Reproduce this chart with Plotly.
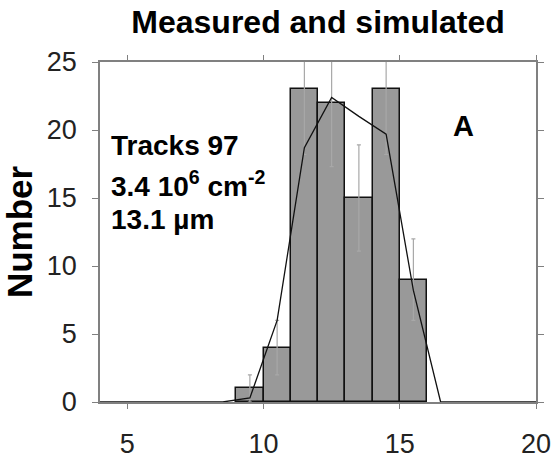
import plotly.graph_objects as go

# Data
bin_centers = [9.5, 10.5, 11.5, 12.5, 13.5, 14.5, 15.5]
counts = [1, 4, 23, 22, 15, 23, 9]
count_err = [1.0, 2.0, 4.8, 4.7, 3.9, 4.8, 3.0]

sim_x = [4.0, 4.5, 5.5, 6.5, 7.5, 8.5, 9.5, 10.5, 11.5, 12.5, 13.5, 14.5, 15.5, 16.5, 17.5, 18.5, 19.5, 20.0]
sim_y = [0, 0, 0, 0, 0, 0, 0.3, 6.0, 18.7, 22.4, 21.0, 19.7, 8.2, 0, 0, 0, 0, 0]

x_ticks = [5, 10, 15, 20]
y_ticks = [0, 5, 10, 15, 20, 25]

title_text = "Measured and simulated"
y_title = "Number"
info_lines = ["Tracks 97", "3.4 10<sup>6</sup> cm<sup>-2</sup>", "13.1 µm"]
panel_label = "A"

W, H = 555, 460
ml, mr, mt, mb = 100, 19, 62, 58
pw = W - ml - mr
ph = H - mt - mb

FONT = "Liberation Sans, Arial, sans-serif"
AXCOL = "#808080"

fig = go.Figure()
fig.add_trace(go.Bar(
    x=bin_centers, y=counts, width=1.0,
    marker=dict(color="#999999", line=dict(color="#111111", width=1.5)),
    error_y=dict(type="data", array=count_err, visible=True,
                 color="#a8a8a8", thickness=1.2, width=2),
    showlegend=False,
))
fig.add_trace(go.Scatter(
    x=sim_x, y=sim_y, mode="lines",
    line=dict(color="#111111", width=1.3),
    showlegend=False, cliponaxis=False,
))

def px_to_paper_x(px):
    return (px - ml) / pw

def px_to_paper_y(py):
    return (H - mb - py) / ph

line_y = [145, 184, 219]
for txt, yy in zip(info_lines, line_y):
    fig.add_annotation(
        text=txt, xref="paper", yref="paper",
        x=px_to_paper_x(109), y=px_to_paper_y(yy),
        xanchor="left", yanchor="middle", showarrow=False,
        font=dict(family=FONT, size=28, color="#000000", weight="bold"),
    )

fig.add_annotation(
    text=panel_label, xref="paper", yref="paper",
    x=px_to_paper_x(463), y=px_to_paper_y(126),
    xanchor="center", yanchor="middle", showarrow=False,
    font=dict(family=FONT, size=29, color="#000000", weight="bold"),
)

fig.update_layout(
    width=W, height=H,
    margin=dict(l=ml, r=mr, t=mt, b=mb, autoexpand=False),
    paper_bgcolor="white", plot_bgcolor="white",
    bargap=0,
    title=dict(text=title_text, x=0.5, xref="paper", xanchor="center",
               y=1 - 22 / H, yref="container", yanchor="middle",
               font=dict(family=FONT, size=32, color="#000000", weight="bold")),
    font=dict(family=FONT, color="#222222"),
)
fig.update_xaxes(
    range=[4, 20], tickvals=x_ticks, ticktext=[str(v) for v in x_ticks],
    showgrid=False, zeroline=False, automargin=False,
    showline=True, linecolor=AXCOL, linewidth=1.5, mirror="ticks",
    ticks="outside", ticklen=5, tickwidth=1.2, tickcolor=AXCOL,
    tickfont=dict(family=FONT, size=27, color="#222222"),
    ticklabelstandoff=12,
)
fig.update_yaxes(
    range=[0, 25], tickvals=y_ticks, ticktext=[str(v) for v in y_ticks],
    showgrid=False, zeroline=False, automargin=False,
    showline=True, linecolor=AXCOL, linewidth=1.5, mirror="ticks",
    ticks="outside", ticklen=6, tickwidth=1.2, tickcolor=AXCOL,
    tickfont=dict(family=FONT, size=27, color="#222222"),
    ticklabelstandoff=10,
    title=dict(text=y_title, standoff=10,
               font=dict(family=FONT, size=35, color="#000000", weight="bold")),
)

fig.write_html("out.html")
